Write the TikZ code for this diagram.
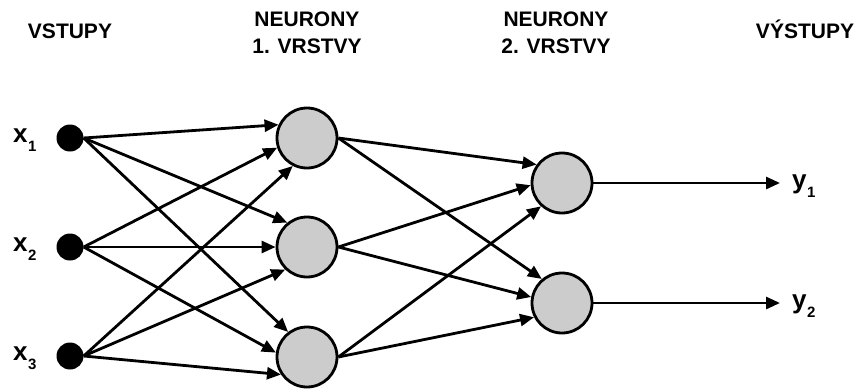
\documentclass[tikz,border=0pt]{standalone}
\usepackage{fontspec}
\setmainfont{Liberation Sans}[BoldFont={Liberation Sans Bold}]
\usetikzlibrary{arrows.meta}
\begin{document}
\begin{tikzpicture}[x=1pt,y=-1pt,
  conn/.style={line width=2.8pt,-{Triangle[length=14pt,width=12pt]}},
  inp/.style={circle,fill=black,inner sep=0pt,minimum size=27pt},
  neuron/.style={circle,draw=black,line width=2.8pt,fill=black!20,inner sep=0pt,minimum size=60pt},
  head/.style={font=\fontsize{21}{27}\selectfont\bfseries,align=center,inner sep=0pt,anchor=base},
  var/.style={font=\fontsize{26}{26}\selectfont\bfseries,inner sep=0pt,anchor=base west}]
\useasboundingbox (0,0) rectangle (857,389);
\newcommand{\lowidx}[1]{\kern0.5pt\raisebox{-9.5pt}{\fontsize{15}{15}\selectfont\bfseries #1}}

% column headings
\node[head] (h0) at (70,38) {VSTUPY};
\node[head] (h1) at (307,53) {NEURONY\\1. VRSTVY};
\node[head] (h2) at (556,53) {NEURONY\\2. VRSTVY};
\node[head] (h3) at (805,38) {VÝSTUPY};

% inputs
\node[inp] (i1) at (70,138) {};
\node[inp] (i2) at (70,247) {};
\node[inp] (i3) at (70,356) {};
\node[var] (lx1) at (13,142) {x\lowidx{1}};
\node[var] (lx2) at (13,251) {x\lowidx{2}};
\node[var] (lx3) at (13,360) {x\lowidx{3}};

% first layer
\node[neuron] (n1) at (307,138) {};
\node[neuron] (n2) at (307,247) {};
\node[neuron] (n3) at (307,357) {};

% second layer
\node[neuron] (m1) at (562,183) {};
\node[neuron] (m2) at (562,303) {};

% outputs
\coordinate (o1) at (780,183);
\coordinate (o2) at (780,303);
\node[var] (ly1) at (792,188) {y\lowidx{1}};
\node[var] (ly2) at (792,308) {y\lowidx{2}};

% inputs to first layer
\draw[conn] (i1.east) -- (n1.155);
\draw[conn] (i1.east) -- (n2.129);
\draw[conn] (i1.east) -- (n3.127);
\draw[conn] (i2.east) -- (n1.198);
\draw[conn] (i2.east) -- (n2.180);
\draw[conn] (i2.east) -- (n3.172);
\draw[conn] (i3.east) -- (n1.243);
\draw[conn] (i3.east) -- (n2.226);
\draw[conn] (i3.east) -- (n3.214);

% first layer to second layer
\draw[conn] (n1.east) -- (m1.144);
\draw[conn] (n2.east) -- (m1.184);
\draw[conn] (n3.east) -- (m1.228);
\draw[conn] (n1.east) -- (m2.130);
\draw[conn] (n2.east) -- (m2.169);
\draw[conn] (n3.east) -- (m2.207);

% outputs
\draw[conn] (m1.east) -- (o1);
\draw[conn] (m2.east) -- (o2);
\end{tikzpicture}
\end{document}
